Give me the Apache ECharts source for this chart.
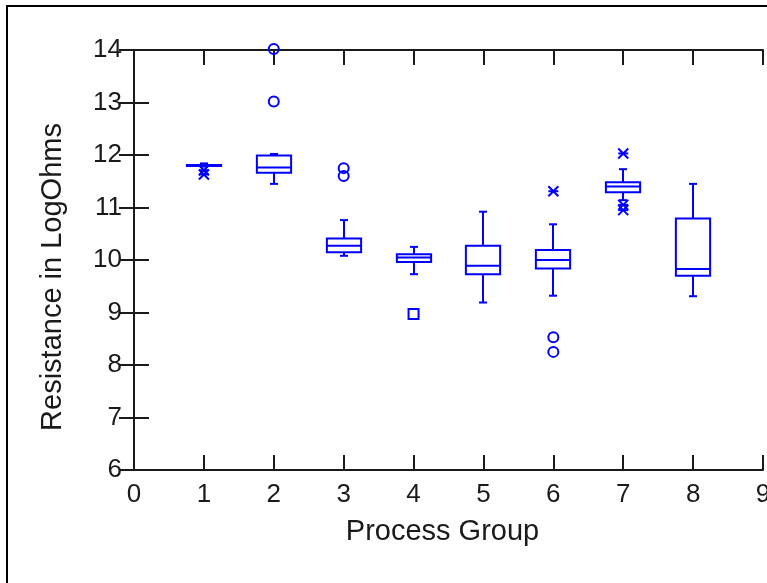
<!DOCTYPE html>
<html>
<head>
<meta charset="utf-8">
<script src="https://cdn.jsdelivr.net/npm/echarts@6/dist/echarts.min.js"></script>
<style>html,body{margin:0;padding:0;background:#fff;}#c{width:767px;height:583px;}</style>
</head>
<body>
<div id="c"></div>
<script>
// Data
var groups       = [1, 2, 3, 4, 5, 6, 7, 8];
var whiskerLow   = [11.78, 11.45, 10.08, 9.73, 9.19, 9.32, 11.14, 9.31];
var quart1       = [11.79, 11.66, 10.15, 9.96, 9.73, 9.84, 11.29, 9.70];
var medians      = [11.80, 11.76, 10.27, 10.05, 9.89, 10.00, 11.40, 9.83];
var quart3       = [11.81, 11.99, 10.41, 10.11, 10.27, 10.19, 11.48, 10.79];
var whiskerHigh  = [11.84, 12.02, 10.76, 10.25, 10.92, 10.68, 11.73, 11.45];
// outliers: group, value, kind (0 = asterisk, 1 = circle, 2 = square)
var outlierGroup = [1, 1, 2, 2, 3, 3, 4, 6, 6, 6, 7, 7, 7];
var outlierValue = [11.71, 11.63, 13.02, 14.02, 11.75, 11.60, 8.97, 11.31, 8.53, 8.25, 12.03, 11.05, 10.95];
var outlierKind  = [0, 0, 1, 1, 1, 1, 2, 0, 1, 1, 0, 0, 0];
var xTicks = [0, 9];
var yTicks = [6, 14];

var BLUE = '#0000ff';
var boxData = groups.map(function (g, i) {
  return [g, whiskerLow[i], quart1[i], medians[i], quart3[i], whiskerHigh[i]];
});
var outData = outlierGroup.map(function (g, i) { return [g, outlierValue[i], outlierKind[i]]; });

function renderBox(params, api) {
  var x = api.value(0);
  var wl = api.coord([x, api.value(1)]);
  var q1 = api.coord([x, api.value(2)]);
  var md = api.coord([x, api.value(3)]);
  var q3 = api.coord([x, api.value(4)]);
  var wh = api.coord([x, api.value(5)]);
  var bw = api.size([0.49, 0])[0];
  var cx = Math.round(q1[0]);
  var left = cx - bw / 2, right = cx + bw / 2;
  var st = { stroke: BLUE, lineWidth: 2, fill: null };
  var cap = 4;
  return {
    type: 'group',
    children: [
      { type: 'line', shape: { x1: cx, y1: q3[1], x2: cx, y2: wh[1] }, style: st },
      { type: 'line', shape: { x1: cx, y1: q1[1], x2: cx, y2: wl[1] }, style: st },
      { type: 'line', shape: { x1: cx - cap, y1: wh[1], x2: cx + cap, y2: wh[1] }, style: st },
      { type: 'line', shape: { x1: cx - cap, y1: wl[1], x2: cx + cap, y2: wl[1] }, style: st },
      { type: 'rect', shape: { x: left, y: q3[1], width: bw, height: Math.max(q1[1] - q3[1], 1) }, style: { stroke: BLUE, lineWidth: 2, fill: '#fff' } },
      { type: 'line', shape: { x1: left, y1: md[1], x2: right, y2: md[1] }, style: st }
    ]
  };
}

function renderOut(params, api) {
  var p = api.coord([api.value(0), api.value(1)]);
  var k = api.value(2);
  var r = 5;
  var st = { stroke: BLUE, lineWidth: 2, fill: null };
  if (k === 1) {
    return { type: 'circle', shape: { cx: p[0], cy: p[1], r: r }, style: st };
  }
  if (k === 2) {
    return { type: 'rect', shape: { x: p[0] - r, y: p[1] - r, width: 2 * r, height: 2 * r }, style: st };
  }
  return {
    type: 'group',
    children: [
      { type: 'line', shape: { x1: p[0] - r, y1: p[1] - r, x2: p[0] + r, y2: p[1] + r }, style: st },
      { type: 'line', shape: { x1: p[0] - r, y1: p[1] + r, x2: p[0] + r, y2: p[1] - r }, style: st },
      { type: 'line', shape: { x1: p[0] - r, y1: p[1], x2: p[0] + r, y2: p[1] }, style: st }
    ]
  };
}

var FONT = 'Liberation Sans';
var AXC = '#1a1a1a';
var chart = echarts.init(document.getElementById('c'), null, { renderer: 'canvas' });
var axLine = { show: true, lineStyle: { color: AXC, width: 2 } };
var tick = { show: true, inside: true, length: 15, lineStyle: { color: AXC, width: 2 } };
chart.setOption({
  animation: false,
  backgroundColor: '#fff',
  grid: { left: 134, top: 50, right: 4, bottom: 113, containLabel: false, outerBoundsMode: 'none' },
  xAxis: [{
    type: 'value', min: xTicks[0], max: xTicks[1], interval: 1, position: 'bottom',
    name: 'Process Group', nameLocation: 'middle', nameGap: 47,
    nameTextStyle: { fontFamily: FONT, fontSize: 29, color: AXC, padding: [0, 12, 0, 0] },
    axisLine: axLine, axisTick: tick, splitLine: { show: false },
    axisLabel: { fontFamily: FONT, fontSize: 26, color: AXC, margin: 12, showMaxLabel: true, hideOverlap: false }
  }, {
    type: 'value', min: xTicks[0], max: xTicks[1], interval: 1, position: 'top',
    axisLine: axLine, axisTick: tick, splitLine: { show: false }, axisLabel: { show: false }
  }],
  yAxis: [{
    type: 'value', min: yTicks[0], max: yTicks[1], interval: 1, position: 'left',
    name: 'Resistance in LogOhms', nameLocation: 'middle', nameGap: 67,
    nameTextStyle: { fontFamily: FONT, fontSize: 29, color: AXC, padding: [0, 34, 0, 0] },
    axisLine: axLine, axisTick: tick, splitLine: { show: false },
    axisLabel: { fontFamily: FONT, fontSize: 26, color: AXC, margin: 12 }
  }, {
    type: 'value', min: yTicks[0], max: yTicks[1], interval: 1, position: 'right',
    axisLine: axLine, axisTick: tick, splitLine: { show: false }, axisLabel: { show: false }
  }],
  graphic: [{
    type: 'rect', shape: { x: 7, y: 6, width: 900, height: 700 },
    style: { fill: null, stroke: '#000', lineWidth: 2 }, z: 100, silent: true
  }],
  series: [{
    type: 'custom', renderItem: renderBox, data: boxData, clip: false,
    encode: { x: 0, y: [1, 2, 3, 4, 5] }, z: 3
  }, {
    type: 'custom', renderItem: renderOut, data: outData, clip: false,
    encode: { x: 0, y: 1 }, z: 4
  }]
});
</script>
</body>
</html>
